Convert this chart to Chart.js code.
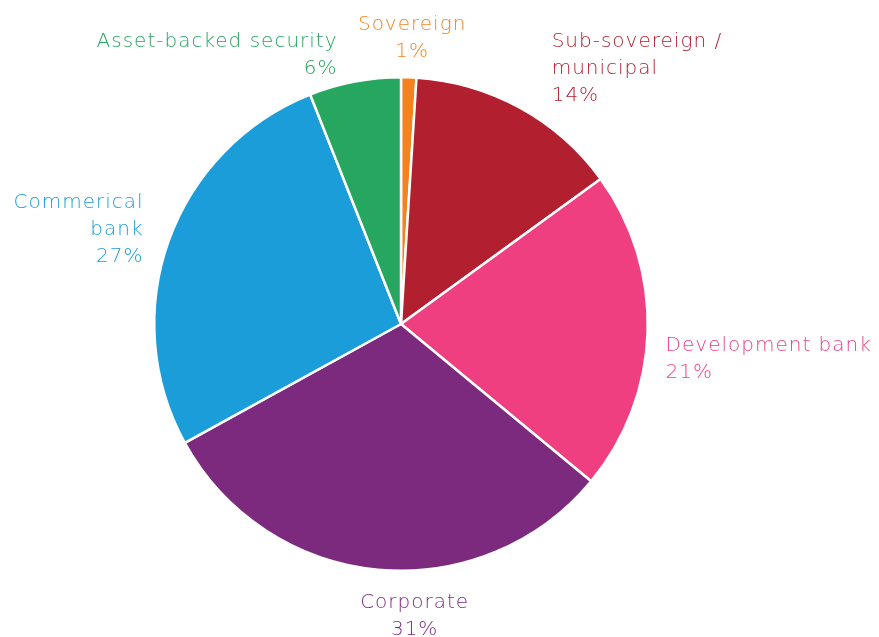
<!DOCTYPE html>
<html>
<head>
<meta charset="utf-8">
<title>Issuer type</title>
<script src="https://cdn.jsdelivr.net/npm/chart.js@4/dist/chart.umd.min.js"></script>
<style>
  html, body { margin: 0; padding: 0; background: #fff; }
  #wrap { width: 879px; height: 637px; position: relative; }
</style>
</head>
<body>
<div id="wrap"><canvas id="issuerChart"></canvas></div>
<script>
// Issuer categories (multi-line labels as arrays)
const categories = [
  ['Sovereign'],
  ['Sub-sovereign /', 'municipal'],
  ['Development bank'],
  ['Corporate'],
  ['Commerical', 'bank'],
  ['Asset-backed security']
];
const shares = [1, 14, 21, 31, 27, 6];
const sliceColors = ['#F5821F', '#B21F2E', '#EF3F80', '#7B2A7E', '#1A9DD9', '#26A65F'];

// where each label block sits relative to its slice's outer mid-point
const labelPlacement = [
  { align: 'center', valign: 'bottom', dx: 3, dy: 0 },
  { align: 'left', valign: 'bottom', dx: 26, dy: 12 },
  { align: 'left', valign: 'top', dx: 6, dy: 0 },
  { align: 'center', valign: 'top', dx: 38, dy: 8 },
  { align: 'right', valign: 'middle', dx: -14, dy: -7 },
  { align: 'right', valign: 'bottom', dx: -15, dy: 12 }
];

const outsideLabels = {
  id: 'outsideLabels',
  afterDatasetsDraw(chart) {
    const { ctx } = chart;
    const meta = chart.getDatasetMeta(0);
    const lineH = 27;
    ctx.save();
    ctx.font = '200 20px "DejaVu Sans", sans-serif';
    ctx.letterSpacing = '1px';
    ctx.textBaseline = 'middle';
    meta.data.forEach((arc, i) => {
      const { x, y, startAngle, endAngle, outerRadius } = arc.getProps(['x', 'y', 'startAngle', 'endAngle', 'outerRadius'], true);
      const mid = (startAngle + endAngle) / 2;
      const r = outerRadius + 12;
      const p = labelPlacement[i];
      const ax = x + Math.cos(mid) * r + p.dx;
      const ay = y + Math.sin(mid) * r + p.dy;
      const lines = categories[i].concat([shares[i] + '%']);
      const h = lines.length * lineH;
      let top = ay;
      if (p.valign === 'bottom') top = ay - h;
      if (p.valign === 'middle') top = ay - h / 2;
      ctx.textAlign = p.align;
      ctx.fillStyle = sliceColors[i];
      lines.forEach((t, k) => ctx.fillText(t, ax, top + lineH / 2 + k * lineH));
    });
    ctx.restore();
  }
};

new Chart(document.getElementById('issuerChart'), {
  type: 'pie',
  data: {
    labels: categories,
    datasets: [{
      data: shares,
      backgroundColor: sliceColors,
      borderColor: '#ffffff',
      borderWidth: 2.5
    }]
  },
  options: {
    responsive: true,
    maintainAspectRatio: false,
    animation: false,
    layout: { padding: { top: 76, bottom: 65, left: 153, right: 230 } },
    plugins: {
      legend: { display: false },
      tooltip: { enabled: false }
    }
  },
  plugins: [outsideLabels]
});
</script>
</body>
</html>
